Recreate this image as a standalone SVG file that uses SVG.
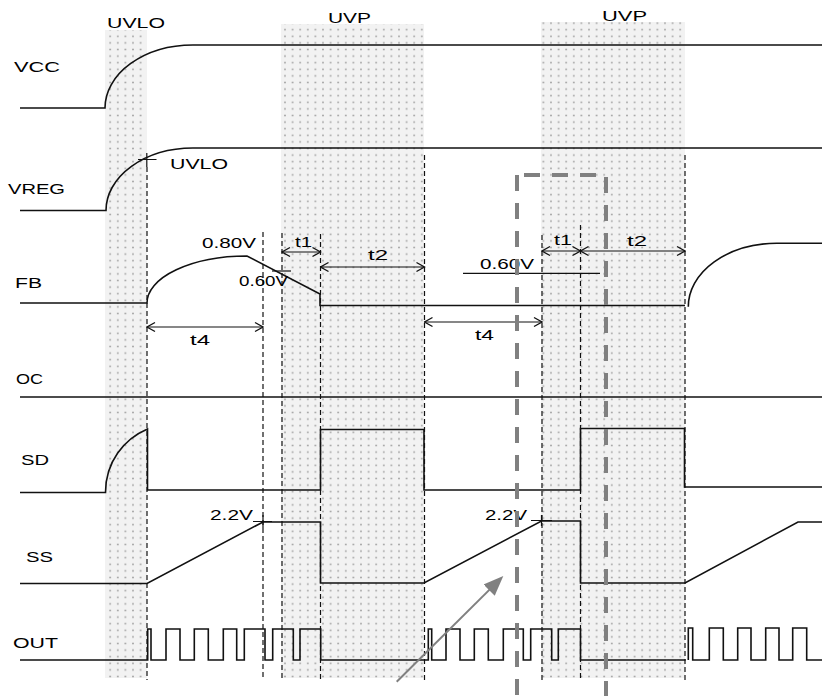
<svg xmlns="http://www.w3.org/2000/svg" width="822" height="696" viewBox="0 0 822 696">
<defs>
<pattern id="dots" x="0" y="0" width="7.6" height="6.6" patternUnits="userSpaceOnUse">
<rect width="7.6" height="6.6" fill="#f2f2f2"/>
<circle cx="3.8" cy="3.3" r="0.9" fill="#a0a0a0"/>
</pattern>
<marker id="oa" viewBox="-1 -6 10 12" refX="8" refY="0" markerWidth="10" markerHeight="12" markerUnits="userSpaceOnUse" orient="auto-start-reverse">
<path d="M0,-4.5 L8,0 L0,4.5" fill="none" stroke="#111" stroke-width="1.3"/>
</marker>
<marker id="ga" viewBox="0 0 20 16" refX="1" refY="8" markerWidth="20" markerHeight="16" markerUnits="userSpaceOnUse" orient="auto">
<path d="M0,0 L20,8 L0,16 z" fill="#808080"/>
</marker>
</defs>
<style>
.band{fill:url(#dots)}
.sig{fill:none;stroke:#111;stroke-width:1.6}
.dash{fill:none;stroke:#111;stroke-width:1.2;stroke-dasharray:5 3}
.dim{fill:none;stroke:#111;stroke-width:1.2;marker-start:url(#oa);marker-end:url(#oa)}
.tick{fill:none;stroke:#111;stroke-width:1.2}
.gdash{fill:none;stroke:#808080;stroke-width:4;stroke-dasharray:16 12}
text{font-family:"Liberation Sans",Arial,sans-serif;font-size:15px;fill:#000}
</style>
<rect width="822" height="696" fill="#fff"/>
<g id="bands">
<rect class="band" x="105" y="30" width="42" height="648"/>
<rect class="band" x="281" y="24" width="143" height="654"/>
<rect class="band" x="541" y="22" width="144" height="656"/>
</g>
<g id="dashed-markers">
<line class="dash" x1="147" y1="167" x2="147" y2="680"/>
<line class="dash" x1="263" y1="232" x2="263" y2="680"/>
<line class="dash" x1="282" y1="233" x2="282" y2="680"/>
<line class="dash" x1="320.5" y1="234" x2="320.5" y2="680"/>
<line class="dash" x1="424.5" y1="155" x2="424.5" y2="680"/>
<line class="dash" x1="542" y1="235" x2="542" y2="680"/>
<line class="dash" x1="580.5" y1="225" x2="580.5" y2="680"/>
<line class="dash" x1="685" y1="155" x2="685" y2="680"/>
</g>
<g id="VCC">
<text x="14" y="72" textLength="46" lengthAdjust="spacingAndGlyphs">VCC</text>
<path class="sig" d="M20,108 H105 A88,63 0 0 1 193,45 H822"/>
</g>
<g id="VREG">
<text x="8" y="194" textLength="57" lengthAdjust="spacingAndGlyphs">VREG</text>
<path class="sig" d="M20,210.5 H106 A87,62.5 0 0 1 193,148 H822"/>
<path class="tick" d="M138,159.5 H156.5 M146.8,153 V167"/>
</g>
<g id="FB">
<text x="15" y="288" textLength="27" lengthAdjust="spacingAndGlyphs">FB</text>
<path class="sig" d="M20,303 H147 A100,47 0 0 1 247,256 L320,294 V305.5 H685"/>
<path class="sig" d="M688.3,306.7 A88.4,63.4 0 0 1 776.7,243.3 H822"/>
<path class="tick" d="M272,271 H291"/>
<line class="tick" x1="463" y1="273.3" x2="600" y2="273.3"/>
</g>
<g id="OC">
<text x="16" y="384" textLength="27" lengthAdjust="spacingAndGlyphs">OC</text>
<path class="sig" d="M20,397 H822"/>
</g>
<g id="SD">
<text x="21" y="465" textLength="28" lengthAdjust="spacingAndGlyphs">SD</text>
<path class="sig" d="M20,492.5 H105.5 C105.5,462 124,439 147.5,429 V490 H320.5 V429.5 H424 V490 H580.5 V428.5 H684.5 V487 H822"/>
</g>
<g id="SS">
<text x="26" y="562" textLength="27" lengthAdjust="spacingAndGlyphs">SS</text>
<path class="sig" d="M20,583.5 H147 L263,522 H320.5 V583 H424 L541.5,521 H580.5 V583 H685 L798,522 H822"/>
<path class="tick" d="M253,521.5 H272 M263,515 V528"/>
<path class="tick" d="M531,520.5 H552 M541.5,515 V526"/>
</g>
<g id="OUT">
<text x="13" y="648" textLength="45" lengthAdjust="spacingAndGlyphs">OUT</text>
<path class="sig" d="M20,660 H147.7 V629 H151 V660 H166 V629 H180 V660 H194.3 V629 H208.3 V660 H223.3 V629 H236.7 V660 H244.3 V629 H265 V660 H272.7 V629 H293.3 V660 H300 V629 H320.7 V660 H428.3 V629 H431.7 V660 H446 V629 H460 V660 H474.3 V629 H488.3 V660 H503.3 V629 H523.3 V660 H530.7 V629 H551.7 V660 H558.3 V629 H580.5 V660 H685.7"/>
<path class="sig" d="M688.3,660 V628 H692.7 V660 H709.3 V628 H723.3 V660 H737.7 V628 H751 V660 H765.7 V628 H779 V660 H792.7 V628 H806.7 V660 H822"/>
</g>
<g id="labels">
<text x="107" y="28" textLength="58" lengthAdjust="spacingAndGlyphs">UVLO</text>
<text x="170" y="169" textLength="58" lengthAdjust="spacingAndGlyphs">UVLO</text>
<text x="328" y="22.5" textLength="43" lengthAdjust="spacingAndGlyphs">UVP</text>
<text x="602" y="21" textLength="45" lengthAdjust="spacingAndGlyphs">UVP</text>
<text x="202" y="248" textLength="54" lengthAdjust="spacingAndGlyphs">0.80V</text>
<text x="239" y="286" textLength="49" lengthAdjust="spacingAndGlyphs">0.60V</text>
<text x="480" y="269" textLength="54" lengthAdjust="spacingAndGlyphs">0.60V</text>
<text x="210" y="520" textLength="43" lengthAdjust="spacingAndGlyphs">2.2V</text>
<text x="485" y="520" textLength="42" lengthAdjust="spacingAndGlyphs">2.2V</text>
</g>
<g id="connectors">
<line class="dim" x1="282" y1="252" x2="320.5" y2="252"/>
<text x="295" y="247" textLength="17" lengthAdjust="spacingAndGlyphs">t1</text>
<line class="dim" x1="320.5" y1="267" x2="424.5" y2="267"/>
<text x="368" y="260" textLength="20" lengthAdjust="spacingAndGlyphs">t2</text>
<line class="dim" x1="147" y1="327" x2="263" y2="327"/>
<text x="190" y="345" textLength="20" lengthAdjust="spacingAndGlyphs">t4</text>
<line class="dim" x1="424.5" y1="322" x2="542" y2="322"/>
<text x="475" y="340" textLength="19" lengthAdjust="spacingAndGlyphs">t4</text>
<line class="dim" x1="542" y1="251" x2="580.5" y2="251"/>
<text x="554" y="245" textLength="18" lengthAdjust="spacingAndGlyphs">t1</text>
<line class="dim" x1="580.5" y1="251" x2="685" y2="251"/>
<text x="627" y="246" textLength="20" lengthAdjust="spacingAndGlyphs">t2</text>
<line class="gdash" x1="517" y1="175" x2="517" y2="696"/>
<line class="gdash" x1="524" y1="175" x2="606" y2="175"/>
<line class="gdash" x1="606" y1="177" x2="606" y2="696"/>
<line x1="396.7" y1="681.7" x2="489.8" y2="589.4" stroke="#808080" stroke-width="2" marker-end="url(#ga)"/>
</g>
</svg>
